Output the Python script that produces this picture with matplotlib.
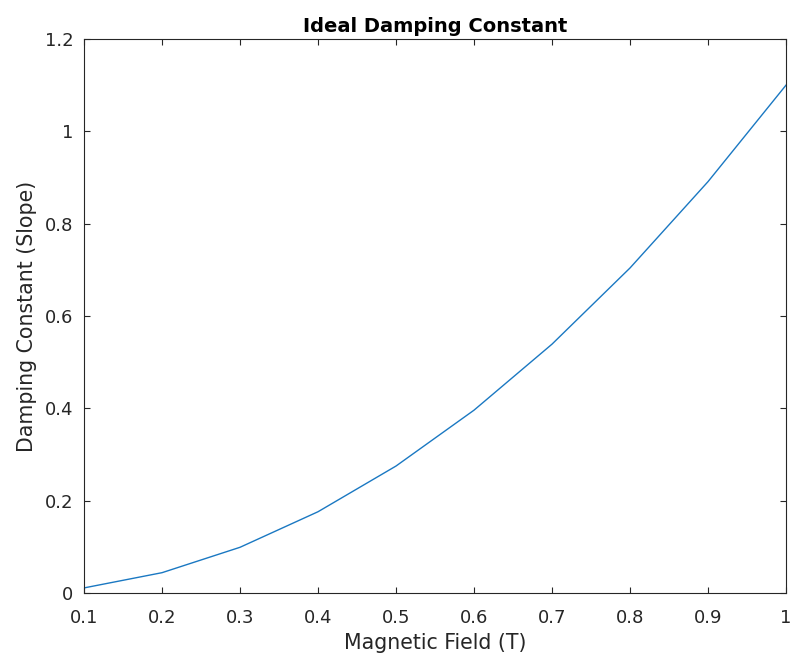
import matplotlib
matplotlib.use("Agg")
import matplotlib.pyplot as plt
from matplotlib.ticker import FormatStrFormatter

# values
field = [0.1, 0.2, 0.3, 0.4, 0.5, 0.6, 0.7, 0.8, 0.9, 1.0]
damping = [0.011, 0.044, 0.099, 0.176, 0.275, 0.396, 0.539, 0.704, 0.891, 1.1]
xticks = [0.1, 0.2, 0.3, 0.4, 0.5, 0.6, 0.7, 0.8, 0.9, 1.0]
yticks = [0, 0.2, 0.4, 0.6, 0.8, 1.0, 1.2]

# the reference text is wide for its height, DejaVu matches that best
plt.rcParams['font.family'] = ['DejaVu Sans']

fig = plt.figure(figsize=(7.92, 6.68), dpi=100)
ax = fig.add_axes([84 / 792, 75 / 668, 702 / 792, 554 / 668])

ax.plot(field, damping, color='#1a78c2', lw=1.0)

ax.set_xlim(0.1, 1.0)
ax.set_ylim(0, 1.2)
ax.set_xticks(xticks)
ax.set_yticks(yticks)
ax.xaxis.set_major_formatter(FormatStrFormatter('%g'))
ax.yaxis.set_major_formatter(FormatStrFormatter('%g'))
ax.tick_params(direction='in', top=True, right=True, length=4, width=0.8,
               colors='#262626', labelsize=13)
ax.tick_params(axis='x', pad=11.5)
ax.tick_params(axis='y', pad=7.5)
for s in ax.spines.values():
    s.set_color('#262626')
    s.set_linewidth(0.8)

ax.set_xlabel('Magnetic Field (T)', fontsize=14.8, color='#262626', labelpad=4)
ax.set_ylabel('Damping Constant (Slope)', fontsize=14.8, color='#262626', labelpad=6)
ax.set_title('Ideal Damping Constant', fontsize=14, fontweight='bold', pad=5)

fig.savefig('out.png', dpi=100)
